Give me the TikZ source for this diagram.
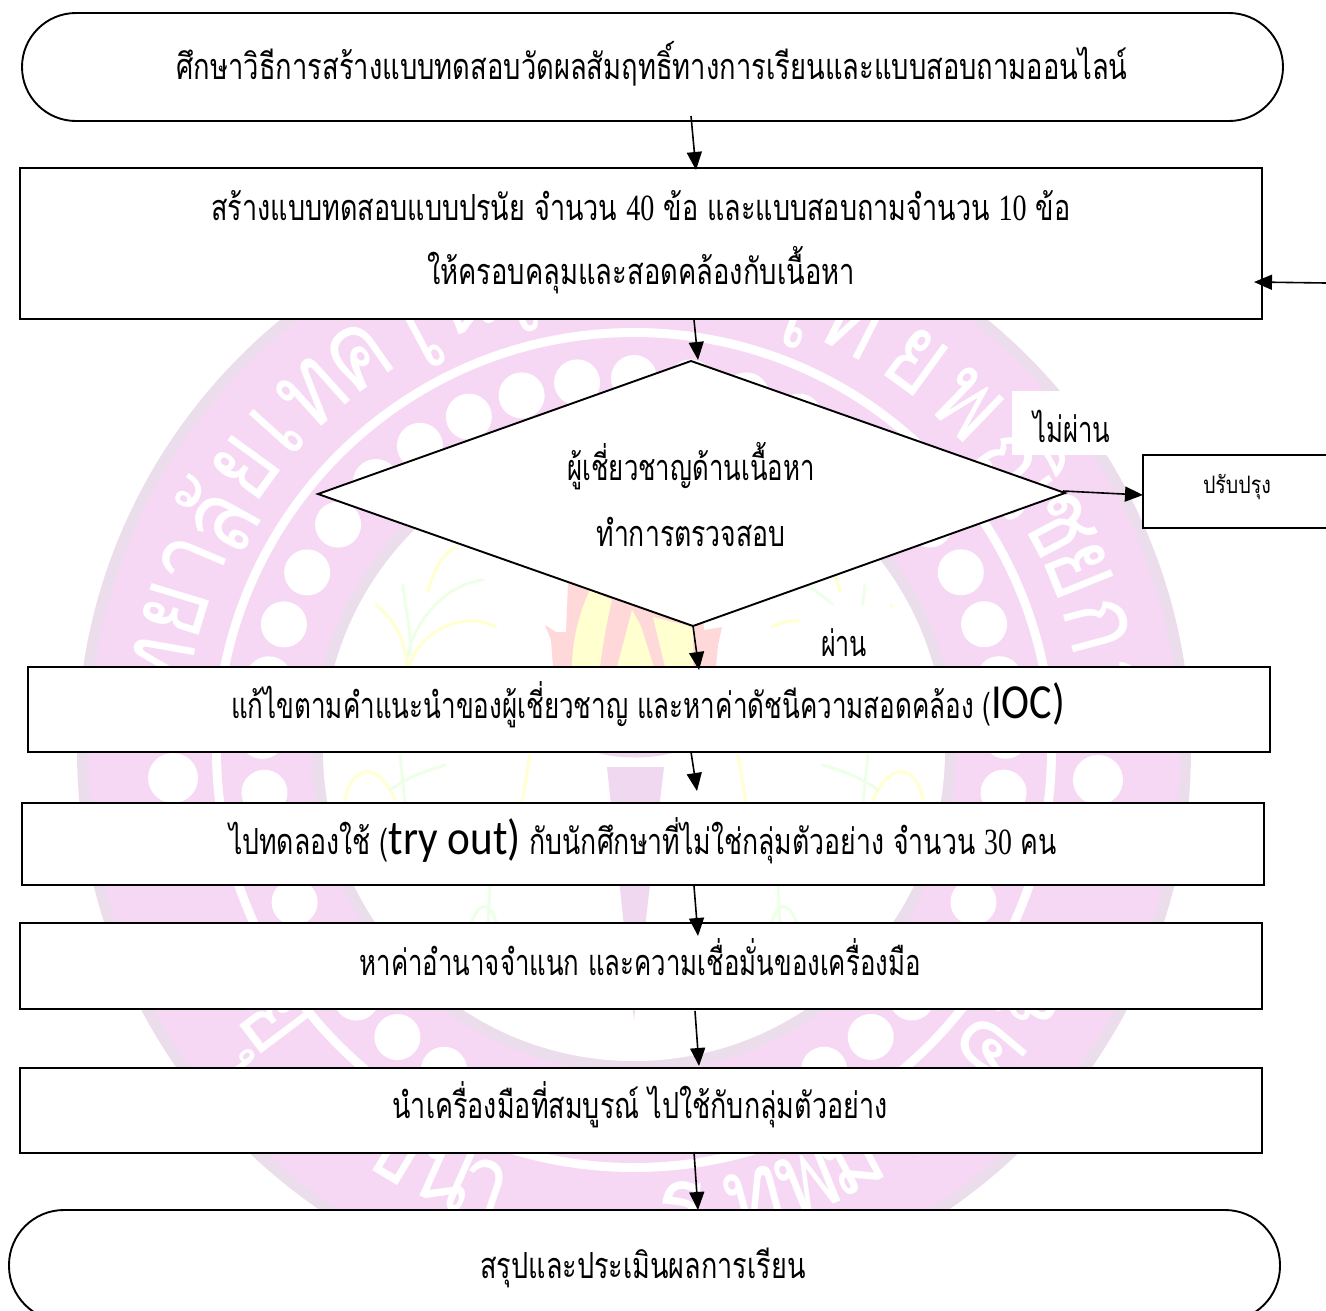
\documentclass[tikz,border=0pt]{standalone}
\usepackage{fontspec}
\usepackage{graphicx}
\usetikzlibrary{arrows.meta,shapes.geometric}
\newfontfamily\thai[Script=Thai,FakeStretch=0.84]{Loma}
\newfontfamily\thaiseal[Script=Thai,FakeStretch=0.82]{Loma}
\newfontfamily\numf{Liberation Serif}
\newfontfamily\latf{Carlito}
\definecolor{sealpink}{HTML}{F6D8F5}
\definecolor{sealrim}{HTML}{EBDDEC}
\definecolor{flamered}{HTML}{FFD9D9}
\definecolor{flameyel}{HTML}{FFFFD0}
\definecolor{leafgreen}{HTML}{EEFFE8}
\definecolor{stemlilac}{HTML}{F0D8F0}
% fit a text to a given width, squeezing only horizontally
\newcommand\fitw[2]{\setbox0\hbox{#2}\pgfmathsetmacro\sxf{#1/\the\wd0}\scalebox{\sxf}[1]{\box0}}
\newcommand\tf{\fontsize{36}{40}\selectfont\thai}
\newcommand\nm[1]{{\fontsize{37}{40}\selectfont\numf\scalebox{0.85}[1]{#1}}}
\newcommand\lt[1]{{\fontsize{49}{50}\selectfont\latf #1}}
\tikzset{
  box/.style={draw=black,fill=white,line width=1.9pt,outer sep=0pt},
  term/.style={draw=black,fill=white,line width=1.9pt},
  lbl/.style={inner sep=0pt,font=\tf,text=black},
  conn/.style={draw=black,line width=1.6pt,-{Triangle[length=18pt,width=15pt]}},
  sealch/.style={inner sep=0pt,text=white,font=\fontsize{108}{108}\selectfont\thaiseal},
  dot/.style={fill=white,draw=none},
  leafy/.style={line width=3pt,draw=flameyel,line cap=round},
  leafg/.style={line width=3pt,draw=leafgreen,line cap=round}
}
\begin{document}
\begin{tikzpicture}[x=1pt,y=-1pt]
\useasboundingbox (0,0) rectangle (1326,1310);
\begin{scope}
\clip (0,0) rectangle (1326,1310);
% ---- watermark seal
\def\cx{634}\def\cy{750}
\fill[sealrim] (\cx,\cy) circle (557);
\fill[sealpink] (\cx,\cy) circle (546);
\fill[white] (\cx,\cy) circle (422);
\fill[sealpink] (\cx,\cy) circle (413);
\fill[sealrim] (\cx,\cy) circle (322);
\fill[white] (\cx,\cy) circle (311);
\foreach \i in {0,...,40}{
  \fill[dot] ({\cx+372*sin(\i*8.78)},{\cy-372*cos(\i*8.78)}) circle (23);
}
\fill[dot] (173,778) circle (25);
\fill[dot] (1098,780) circle (25);
\foreach \a/\c [count=\n] in {80/ท,73/ย,67/า,61/ลั,54/ย,48/เ,42/ท,35/ค,28/โ,21/น,15/โ,9/ล,3/ยี,-20/ไ,-27/ท,-36/ย,-44/พ,-54/ณิ,-62/ช,-68/ย,-75/ก,-82/า}{
  \node[sealch,rotate=\a] (st\n) at ({\cx-480*sin(\a)},{\cy-480*cos(\a)}) {\c};
}
\foreach \b/\c [count=\n] in {53/ยุ,31/ข,24/น,19/า,-6/ร,-15/ท,-22/พ,-28/ม,-34/า,-50/ค,-57/จ}{
  \node[sealch,rotate=-\b] (sb\n) at ({\cx-465*sin(\b)},{\cy+465*cos(\b)}) {\c};
}
% torch
\fill[flamered] (553,667) -- (551,640) -- (545,625) -- (556,632) -- (566,632) -- (568,583) -- (700,583) -- (704,630) -- (722,627) -- (718,645) -- (716,667) -- cycle;
\fill[flameyel] (572,667) .. controls (572,640) and (580,610) .. (590,590) -- (612,600) .. controls (606,625) and (602,650) .. (600,667) -- cycle;
\fill[flameyel] (617,667) -- (632,610) -- (664,667) -- cycle;
\fill[flamered] (636,610) -- (645,612) -- (664,667) -- (654,667) -- cycle;
\fill[flameyel] (653,617) -- (693,627) -- (693,667) -- (665,667) -- cycle;
\fill[stemlilac] (590,750) .. controls (610,760) and (660,760) .. (680,750) -- cycle;
\fill[stemlilac] (607,767) -- (664,767) -- (634,1020) -- cycle;
% plants
\foreach \m in {0,1}{
\begin{scope}[xshift={\m*1268pt},xscale={1-2*\m}]
\draw[leafg] (407,660) .. controls (410,630) and (440,585) .. (483,580);
\draw[leafg] (403,585) .. controls (405,610) and (412,630) .. (410,655);
\draw[leafy] (376,605) .. controls (395,620) and (405,640) .. (407,665);
\draw[leafy] (410,665) .. controls (420,630) and (465,610) .. (496,627);
\draw[leafy] (456,547) .. controls (440,555) and (432,575) .. (428,592);
\draw[leafy] (345,800) .. controls (350,770) and (375,755) .. (395,800);
\draw[leafg] (390,790) .. controls (410,775) and (430,770) .. (445,765);
\draw[leafg] (405,803) -- (400,755);
\draw[leafy] (530,755) -- (522,803);
\draw[leafg] (470,925) .. controls (480,900) and (490,900) .. (497,925);
\draw[leafg] (490,885) -- (488,923);
\end{scope}}
% ---- flowchart
\node[fill=white,minimum width=101pt,minimum height=64pt,inner sep=0pt,anchor=north west] (patchA) at (1012,391) {};
\node[fill=white,minimum width=90pt,minimum height=62pt,inner sep=0pt,anchor=north west] (patchB) at (800,605) {};

\draw[term,rounded corners=54pt] (22,13) rectangle (1283,121);
\draw[term,rounded corners=55pt] (9,1210) rectangle (1280,1321);

\node[box,anchor=north west,minimum width=1242pt,minimum height=151pt,inner sep=0pt] (b2) at (20,168) {};
\node[box,anchor=north west,minimum width=190pt,minimum height=73pt,inner sep=0pt] (b3) at (1143,455) {};
\draw[box] (691,361) -- (1065,493) -- (693,626) -- (318,494) -- cycle;
\node[box,anchor=north west,minimum width=1242pt,minimum height=85pt,inner sep=0pt] (b4) at (28,667) {};
\node[box,anchor=north west,minimum width=1242pt,minimum height=82pt,inner sep=0pt] (b5) at (22,803) {};
\node[box,anchor=north west,minimum width=1242pt,minimum height=86pt,inner sep=0pt] (b6) at (20,923) {};
\node[box,anchor=north west,minimum width=1242pt,minimum height=85pt,inner sep=0pt] (b7) at (20,1068) {};

% texts
\node[lbl] (t1) at (652,64) {\fitw{951}{ศึกษาวิธีการสร้างแบบทดสอบวัดผลสัมฤทธิ์ทางการเรียนและแบบสอบถามออนไลน์}};
\node[lbl] (t2a) at (641,206) {\fitw{859}{สร้างแบบทดสอบแบบปรนัย จำนวน \nm{40} ข้อ และแบบสอบถามจำนวน \nm{10} ข้อ}};
\node[lbl] (t2b) at (641,270) {\fitw{428}{ให้ครอบคลุมและสอดคล้องกับเนื้อหา}};
\node[lbl] (t3a) at (691,466) {\fitw{247}{ผู้เชี่ยวชาญด้านเนื้อหา}};
\node[lbl] (t3b) at (691,532) {\fitw{189}{ทำการตรวจสอบ}};
\node[lbl] (t4) at (1072,426) {\fitw{77}{ไม่ผ่าน}};
\node[lbl,font=\fontsize{24}{26}\selectfont\thai] (t5) at (1237,487) {\fitw{68}{ปรับปรุง}};
\node[lbl] (t6) at (844,643) {\fitw{46}{ผ่าน}};
\node[lbl] (t7) at (648,705) {\fitw{834}{แก้ไขตามคำแนะนำของผู้เชี่ยวชาญ และหาค่าดัชนีความสอดคล้อง (\lt{IOC)}}};
\node[lbl] (t8) at (643,841) {\fitw{828}{ไปทดลองใช้ (\lt{try out)} กับนักศึกษาที่ไม่ใช่กลุ่มตัวอย่าง จำนวน \nm{30} คน}};
\node[lbl] (t9) at (640,957) {\fitw{561}{หาค่าอำนาจจำแนก และความเชื่อมั่นของเครื่องมือ}};
\node[lbl] (t10) at (640,1105) {\fitw{495}{นำเครื่องมือที่สมบูรณ์ ไปใช้กับกลุ่มตัวอย่าง}};
\node[lbl] (t11) at (643,1268) {\fitw{325}{สรุปและประเมินผลการเรียน}};

% connector end points
\coordinate (a1) at (691,116); \coordinate (a2) at (696,170);
\coordinate (c1) at (694,320); \coordinate (c2) at (698,360);
\coordinate (d1) at (693,626); \coordinate (d2) at (699,670);
\coordinate (e1) at (691,752); \coordinate (e2) at (697,791);
\coordinate (f1) at (694,886); \coordinate (f2) at (698,936);
\coordinate (g1) at (695,1011); \coordinate (g2) at (699,1066);
\coordinate (h1) at (694,1152); \coordinate (h2) at (698,1210);
\coordinate (i1) at (1063,491); \coordinate (i2) at (1143,495);
\coordinate (j1) at (1326,283); \coordinate (j2) at (1254,282);
\foreach \p/\q in {a1/a2,c1/c2,d1/d2,e1/e2,f1/f2,g1/g2,h1/h2,i1/i2,j1/j2}{
  \draw[conn] (\p) -- (\q);
}
\end{scope}
\end{tikzpicture}
\end{document}
